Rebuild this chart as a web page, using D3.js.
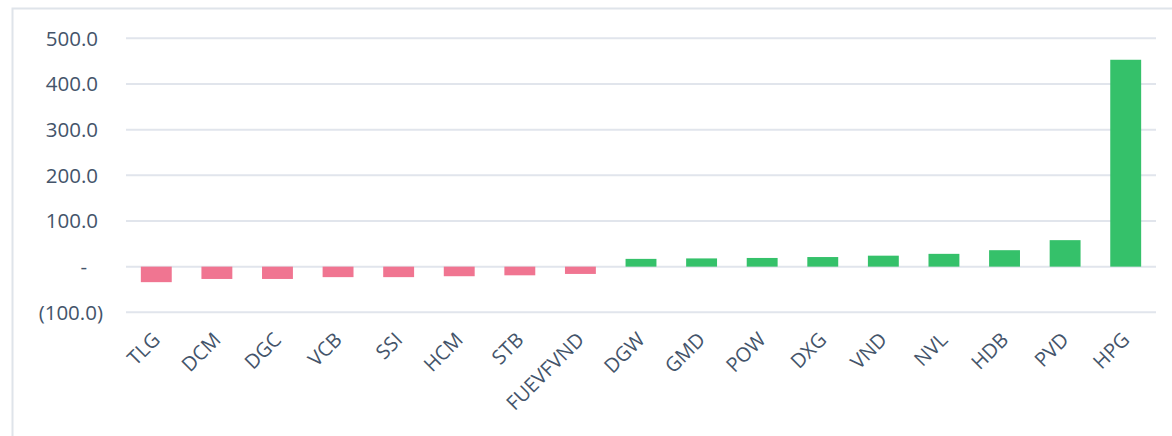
<!DOCTYPE html>
<html><head><meta charset="utf-8">
<script src="https://cdn.jsdelivr.net/npm/d3@7"></script>
<style>
html,body{margin:0;padding:0;background:#fff;}
svg{display:block;}
</style></head>
<body>
<svg id="chart" width="1172" height="436"></svg>
<script>
const categories = ["TLG","DCM","DGC","VCB","SSI","HCM","STB","FUEVFVND","DGW","GMD","POW","DXG","VND","NVL","HDB","PVD","HPG"];
const values = [-34,-27,-27,-23,-23,-21,-19,-16,17,18,19,21,24,28,36,58,453];
const yTicks = [-100,0,100,200,300,400,500];

(function(){
const svg = d3.select("#chart");
const W = 1172, H = 436;
const mLeft = 126, mRight = 1156, mTop = 38.3, mBottom = 312.3;
const font = "'Open Sans', 'Noto Sans', sans-serif";
const textColor = "#44546a";

// frame
svg.append("path").attr("d", `M12.5,${H} L12.5,8.5 L${W},8.5`)
  .attr("fill","none").attr("stroke","#dfe4ea").attr("stroke-width",2);

const x = d3.scaleBand().domain(categories).range([mLeft, mRight]).paddingInner(0.49).paddingOuter(0.245);
const y = d3.scaleLinear().domain([-100, 500]).range([mBottom, mTop]);

// gridlines
svg.append("g").selectAll("line").data(yTicks).join("line")
  .attr("x1", mLeft).attr("x2", mRight)
  .attr("y1", d => y(d)).attr("y2", d => y(d))
  .attr("stroke", "#e1e5ec").attr("stroke-width", 2);

// y labels
const fmt = d => d === 0 ? "-" : (d < 0 ? "(" + d3.format(".1f")(-d) + ")" : d3.format(".1f")(d));
svg.append("g").selectAll("text").data(yTicks).join("text")
  .attr("x", d => d === 0 ? 87 : (d < 0 ? 103 : 98))
  .attr("y", d => y(d))
  .attr("dy", "0.36em")
  .attr("text-anchor", "end")
  .attr("font-family", font).attr("font-size", 20.5)
  .attr("fill", textColor)
  .text(fmt);

// bars
svg.append("g").selectAll("rect").data(categories).join("rect")
  .attr("x", d => x(d))
  .attr("width", x.bandwidth())
  .attr("y", (d,i) => y(Math.max(0, values[i])))
  .attr("height", (d,i) => Math.abs(y(values[i]) - y(0)))
  .attr("fill", (d,i) => values[i] < 0 ? "#f07591" : "#35c16a");

// x labels
svg.append("g").selectAll("text").data(categories).join("text")
  .attr("transform", d => `translate(${x(d) + x.bandwidth()/2 + 5},${341}) rotate(-45)`)
  .attr("text-anchor", "end")
  .attr("font-family", font).attr("font-size", 20)
  .attr("fill", textColor)
  .text(d => d);
})();
</script>
</body></html>
